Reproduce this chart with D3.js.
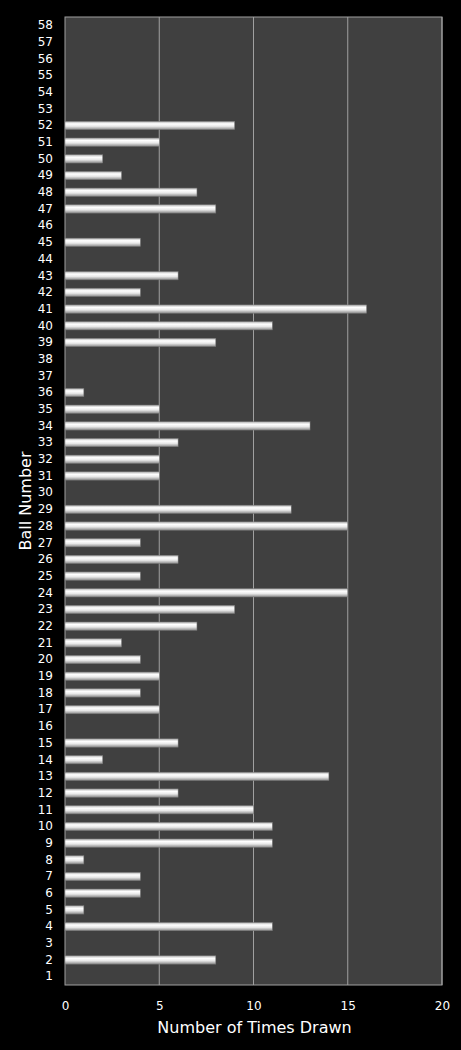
<!DOCTYPE html><html><head><script src="https://cdn.jsdelivr.net/npm/d3@7"></script>
<style>body{margin:0;background:#000}</style></head><body><svg id="c" width="461" height="1050"></svg>
<script>
const balls = d3.range(1,59).map(String);
const counts = [0,8,0,11,1,4,4,1,11,11,10,6,14,2,6,0,5,4,5,4,3,7,9,15,4,6,4,15,12,0,5,5,6,13,5,1,0,0,8,11,16,4,6,0,4,0,8,7,3,2,5,9,0,0,0,0,0,0];
const xTicks = [0,5,10,15,20];
const svg = d3.select("#c");
const m={l:65,r:442,t:17,b:985};
svg.append("rect").attr("width",461).attr("height",1050).attr("fill","#000");
const x=d3.scaleLinear().domain([0,20]).range([m.l,m.r]);
const y=d3.scaleBand().domain(balls.slice().reverse()).range([m.t,m.b]).paddingInner(0.5).paddingOuter(0.25);
svg.append("rect").attr("x",m.l).attr("y",m.t).attr("width",m.r-m.l).attr("height",m.b-m.t).attr("fill","#404040").attr("stroke","#a0a0a0");
const defs=svg.append("defs");
const g=defs.append("linearGradient").attr("id","bg").attr("x1",0).attr("x2",0).attr("y1",0).attr("y2",1);
[[0,"#b0b0b0"],[0.3,"#ffffff"],[0.6,"#e8e8e8"],[1,"#8a8a8a"]].forEach(([o,c])=>g.append("stop").attr("offset",o).attr("stop-color",c));
svg.selectAll(".grid").data(xTicks.slice(1)).join("line").attr("x1",d=>x(d)).attr("x2",d=>x(d)).attr("y1",m.t).attr("y2",m.b).attr("stroke","#a0a0a0");
svg.selectAll(".bar").data(counts).join("rect").attr("x",x(0)).attr("y",(d,i)=>y(balls[i])).attr("height",y.bandwidth()).attr("width",d=>x(d)-x(0)).attr("fill","url(#bg)").attr("stroke","#777").attr("stroke-width",0.5);
const xa=svg.append("g").attr("transform",`translate(0,${m.b})`).call(d3.axisBottom(x).tickValues(xTicks).tickSize(0).tickPadding(16));
const ya=svg.append("g").attr("transform",`translate(${m.l},0)`).call(d3.axisLeft(y).tickSize(0).tickPadding(12));
[xa,ya].forEach(a=>{a.select(".domain").remove();a.selectAll("text").attr("fill","#fff").attr("font-family","DejaVu Sans").attr("font-size",12);});
svg.append("text").attr("x",(m.l+m.r)/2+1).attr("y",1033).attr("text-anchor","middle").attr("fill","#fff").attr("font-family","DejaVu Sans").attr("font-size",16).text("Number of Times Drawn");
svg.append("text").attr("transform",`translate(31,${(m.t+m.b)/2}) rotate(-90)`).attr("text-anchor","middle").attr("fill","#fff").attr("font-family","DejaVu Sans").attr("font-size",16).text("Ball Number");
</script></body></html>
